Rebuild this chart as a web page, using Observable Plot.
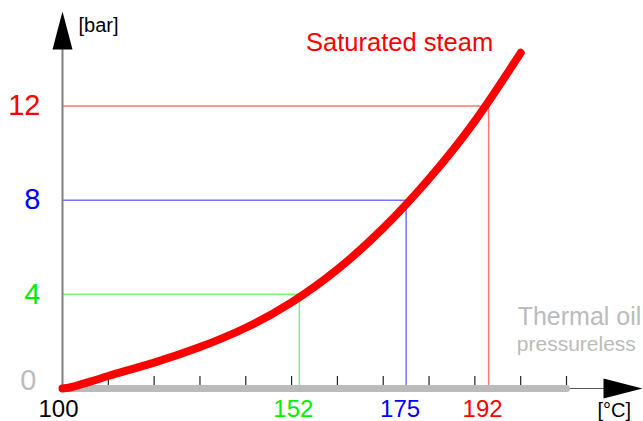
<!DOCTYPE html>
<html><head><meta charset="utf-8">
<script src="https://cdn.jsdelivr.net/npm/d3@7"></script>
<script src="https://cdn.jsdelivr.net/npm/@observablehq/plot@0.6"></script>
<style>body{margin:0;background:#fff;} svg{display:block}</style>
</head><body><div id="chart"></div>
<script>
// Saturated steam curve (temperature °C, gauge pressure bar)
const steamT = [100, 102.8, 110, 120, 130, 140, 150, 160, 170, 180, 190, 200];
const steamP = [0, 0.10, 0.53, 1.10, 1.76, 2.58, 3.66, 5.06, 6.81, 8.91, 11.36, 14.26];

// Reference markers
const markerT = [151.7, 175, 193];
const markerP = [4, 8, 12];
const markerLabels = ["152", "175", "192"];
const originLabel = "100";

// Axis tick marks and labels
const xTickMarks = [110, 120, 130, 140, 150, 160, 170, 180, 190, 200, 210];
const yLabels = [0, 4, 8, 12];
const oilRange = [100, 210];

// Styles
const markerColors = ["#00ee00", "#0000ff", "#ff0000"];
const zeroColor = "#bbbbbb";
const font = "'Liberation Sans', Arial, Helvetica, sans-serif";

const steam = steamT.map((t, i) => ({t, p: steamP[i]}));
const markers = markerT.map((t, i) => ({t, p: markerP[i], label: markerLabels[i], color: markerColors[i]}));
const yLabelRows = yLabels.filter(v => v !== 0).map(v => ({p: v, color: markerColors[markerP.indexOf(v)]}));

const arrowUp = {draw(c) { c.moveTo(0, -19); c.lineTo(10, 19); c.lineTo(-10, 19); c.closePath(); }};
const arrowRight = {draw(c) { c.moveTo(19.5, 0); c.lineTo(-19.5, 10); c.lineTo(-19.5, -10); c.closePath(); }};

const chart = Plot.plot({
  width: 643, height: 421,
  marginLeft: 62, marginRight: 77, marginTop: 30, marginBottom: 33,
  style: {fontFamily: font, background: "white"},
  x: {domain: [100, 210], axis: null},
  y: {domain: [0, 12], range: [388, 105.5], axis: null},
  marks: [
    Plot.ruleY(markers, {y: "p", x1: 100, x2: "t", stroke: "color", strokeOpacity: 0.55, strokeWidth: 1.5}),
    Plot.ruleX(markers, {x: "t", y1: 0, y2: "p", stroke: "color", strokeOpacity: 0.55, strokeWidth: 1.5}),
    Plot.ruleX([100], {stroke: "#808080", strokeWidth: 2}),
    Plot.ruleY([0], {stroke: "#555", strokeWidth: 1.2, insetRight: -40}),
    Plot.ruleX(xTickMarks, {y1: 0, y2: 0, insetTop: -12, stroke: "#222", strokeWidth: 1.2}),
    Plot.line(oilRange, {x: d => d, y: 0, stroke: "#bbbbbb", strokeWidth: 7, strokeLinecap: "round"}),
    Plot.line(steam, {x: "t", y: "p", stroke: "#ff0000", strokeWidth: 8, curve: "natural", strokeLinecap: "round", strokeLinejoin: "round"}),
    Plot.dot([0], {frameAnchor: "top-left", symbol: arrowUp, fill: "black", stroke: "none", r: 10}),
    Plot.dot([0], {frameAnchor: "bottom-right", symbol: arrowRight, fill: "black", stroke: "none", r: 10, dx: 56.5}),
    // x labels
    Plot.text(markers, {x: "t", text: "label", fill: "color", frameAnchor: "bottom", lineAnchor: "bottom", dy: 28, dx: -6, fontSize: 24}),
    Plot.text([100], {x: d => d, text: () => originLabel, fill: "black", frameAnchor: "bottom", lineAnchor: "bottom", dy: 28, dx: -4, fontSize: 24}),
    // y labels
    Plot.text(yLabelRows, {y: "p", text: d => String(d.p), fill: "color", frameAnchor: "left", textAnchor: "end", dx: -22, fontSize: 29}),
    Plot.text([0], {y: d => d, text: d => String(d), fill: zeroColor, frameAnchor: "left", textAnchor: "end", dx: -26, dy: -8, fontSize: 29}),
    // units
    Plot.text(["[bar]"], {frameAnchor: "top-left", text: d => d, textAnchor: "start", lineAnchor: "bottom", dx: 16, dy: 1, fontSize: 20, fill: "black"}),
    Plot.text(["[°C]"], {frameAnchor: "bottom-right", text: d => d, textAnchor: "start", lineAnchor: "bottom", dx: 31, dy: 28, fontSize: 20, fill: "black"}),
    // annotations
    Plot.text([steam[steam.length - 1]], {x: "t", y: "p", text: () => "Saturated steam", textAnchor: "end", lineAnchor: "bottom", dx: -27.5, dy: -1.6, fill: "#ff0000", fontSize: 25.5}),
    Plot.text([oilRange[1]], {x: d => d, y: 0, text: () => "Thermal oil", textAnchor: "start", lineAnchor: "bottom", dx: -48.8, dy: -64, fill: "#bbbbbb", fontSize: 25}),
    Plot.text([oilRange[1]], {x: d => d, y: 0, text: () => "pressureless", textAnchor: "start", lineAnchor: "bottom", dx: -49.7, dy: -38, fill: "#bbbbbb", fontSize: 21})
  ]
});
document.getElementById("chart").appendChild(chart);
</script>
</body></html>
